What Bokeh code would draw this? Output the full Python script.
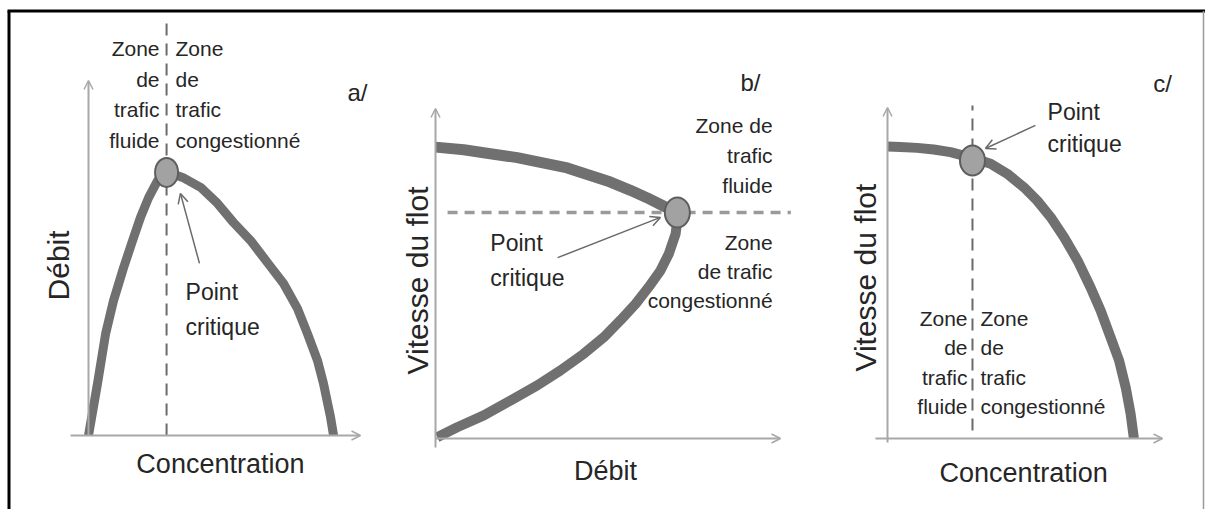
import math
from bokeh.plotting import figure
from bokeh.models import Arrow, OpenHead, Label, Range1d
from bokeh.embed import file_html
from bokeh.resources import INLINE

FONT = "Liberation Sans"
TXT = "#262626"
CURVE = "#707070"
AXIS = "#a8a8a8"

# ---------------- data (axis arrow tip = 10) ----------------
# a/ Débit vs Concentration
a_concentration = [0.00, 0.33, 0.63, 0.92, 1.29, 1.62, 1.91, 2.21, 2.54, 2.94, 3.46, 4.12, 4.74,
                   5.33, 5.96, 6.58, 7.17, 7.68, 8.05, 8.42, 8.64, 8.90, 9.01]
a_debit = [0.00, 1.46, 2.87, 3.80, 4.73, 5.49, 6.14, 6.70, 7.18, 7.41, 7.27, 6.99, 6.54,
           6.00, 5.49, 4.87, 4.28, 3.58, 2.87, 2.11, 1.46, 0.51, 0.00]
a_critical = ([2.87], [7.41])

# b/ Vitesse du flot vs Débit (upper branch = fluide, lower branch = congestionné)
b_debit_upper = [0.00, 0.82, 1.59, 2.37, 3.04, 3.82, 4.49, 5.07, 5.65, 6.14, 6.52, 6.91, 7.01]
b_speed_upper = [8.83, 8.75, 8.63, 8.51, 8.37, 8.20, 7.97, 7.77, 7.52, 7.29, 7.09, 6.89, 6.85]
b_debit_lower = [7.01, 7.02, 6.96, 6.76, 6.52, 6.18, 5.80, 5.36, 4.88, 4.30, 3.62, 2.95, 2.17, 1.40, 0.63, 0.05]
b_speed_lower = [6.85, 6.71, 6.20, 5.59, 5.09, 4.59, 4.08, 3.58, 3.07, 2.57, 2.06, 1.61, 1.15, 0.70, 0.34, 0.04]
b_critical = ([7.01], [6.85])

# c/ Vitesse du flot vs Concentration
c_concentration = [0.00, 0.47, 1.08, 1.68, 2.29, 3.07, 3.75, 4.35, 4.96, 5.44, 5.93, 6.42,
                   6.91, 7.38, 7.75, 8.11, 8.42, 8.66, 8.84, 8.96]
c_speed = [8.82, 8.81, 8.78, 8.73, 8.65, 8.48, 8.30, 8.00, 7.59, 7.19, 6.69, 6.08,
           5.38, 4.57, 3.87, 3.06, 2.36, 1.55, 0.75, 0.00]
c_critical = ([3.09], [8.40])

# ---------------- layout (page pixels) ----------------
W, H = 1205, 509
# origin of each panel's axes on the page and pixels per data unit
PANELS = {
    "a": dict(ox=88, oy=435, sx=27.2, sy=35.5),
    "b": dict(ox=435, oy=438, sx=34.5, sy=33.0),
    "c": dict(ox=887, oy=438, sx=27.5, sy=33.1),
}


def px_x(key, px):
    s = PANELS[key]
    return (px - s["ox"]) / s["sx"]


def px_y(key, py):
    s = PANELS[key]
    return (s["oy"] - py) / s["sy"]


p = figure(width=W, height=H, x_range=Range1d(0, W), y_range=Range1d(H, 0),
           x_axis_type=None, y_axis_type=None, toolbar_location=None,
           output_backend="svg", min_border=0)
p.outline_line_color = None
p.background_fill_color = "white"
p.border_fill_color = "white"
for k in PANELS:
    p.extra_x_ranges[k] = Range1d(px_x(k, 0), px_x(k, W))
    p.extra_y_ranges[k] = Range1d(px_y(k, H), px_y(k, 0))

# outer frame (page pixel coordinates)
p.line([7, W], [10.5, 10.5], line_color="black", line_width=3)
p.line([8.5, 8.5], [10.5, H], line_color="black", line_width=3)
p.line([1203, 1203], [10.5, H], line_color="#9a9a9a", line_width=1.5)


def axes(k, x0, y0):
    for xs, ys, xe, ye in ((x0, 0, 10, 0), (0, y0, 0, 10)):
        p.add_layout(Arrow(end=OpenHead(size=9, line_color=AXIS, line_width=1.5),
                           x_start=xs, y_start=ys, x_end=xe, y_end=ye,
                           line_color=AXIS, line_width=2, x_range_name=k, y_range_name=k))


def label(k, x, y, text, size, align="center", angle=0.0):
    p.add_layout(Label(x=x, y=y, text=text, text_align=align, text_baseline="middle",
                       text_font=FONT, text_font_size=size, text_color=TXT, angle=angle,
                       x_range_name=k, y_range_name=k))


def lines(k, texts, x, y0, dy, align, size="21px"):
    for i, t in enumerate(texts):
        label(k, x, y0 - i * dy, t, size, align=align)


def pointer(k, xs, ys, xe, ye):
    p.add_layout(Arrow(end=OpenHead(size=10, line_color="#6a6a6a", line_width=1.5),
                       x_start=xs, y_start=ys, x_end=xe, y_end=ye,
                       line_color="#6a6a6a", line_width=1.5, x_range_name=k, y_range_name=k))


def curve(k, xs, ys, width):
    p.line(xs, ys, line_color=CURVE, line_width=width, line_join="round",
           x_range_name=k, y_range_name=k)


def dashed(k, xs, ys, color, width, dash):
    p.line(xs, ys, line_color=color, line_width=width, line_dash=dash,
           x_range_name=k, y_range_name=k)


def critical(k, pt, w, h):
    p.ellipse(pt[0], pt[1], width=w, height=h, width_units="screen", height_units="screen",
              fill_color="#a2a2a2", line_color="#5e5e5e", line_width=2,
              x_range_name=k, y_range_name=k)


# ---------------- panel a ----------------
axes("a", -0.66, 0)
dashed("a", [a_critical[0][0]] * 2, [0, 11.8], "#6a6a6a", 2, "12 8")
curve("a", a_concentration, a_debit, 9)
critical("a", a_critical, 23, 29)
lines("a", ["Zone", "de", "trafic", "fluide"], 2.61, 10.90, 0.865, "right")
lines("a", ["Zone", "de", "trafic", "congestionné"], 3.20, 10.90, 0.865, "left")
lines("a", ["Point", "critique"], 3.57, 4.03, 0.96, "left", size="23px")
pointer("a", 4.08, 4.85, 3.38, 6.82)
label("a", 9.89, 9.66, "a/", "24px")
label("a", -1.10, 4.79, "Débit", "30px", angle=math.pi / 2)
label("a", 4.85, -0.79, "Concentration", "27px")

# ---------------- panel b ----------------
axes("b", 0, -0.27)
dashed("b", [0.35, 10.3], [b_critical[1][0]] * 2, "#9a9a9a", 3.5, "10 7")
curve("b", b_debit_upper, b_speed_upper, 11)
curve("b", b_debit_lower, b_speed_lower, 10)
critical("b", b_critical, 25, 30)
lines("b", ["Zone de", "trafic", "fluide"], 9.77, 9.48, 0.905, "right")
lines("b", ["Zone", "de trafic", "congestionné"], 9.77, 5.94, 0.88, "right")
lines("b", ["Point", "critique"], 1.59, 5.91, 1.06, "left", size="23px")
pointer("b", 3.54, 5.48, 6.52, 6.70)
label("b", 9.13, 10.79, "b/", "24px")
label("b", -0.52, 4.79, "Vitesse du flot", "30px", angle=math.pi / 2)
label("b", 4.93, -0.97, "Débit", "27px")

# ---------------- panel c ----------------
axes("c", -0.44, -0.12)
dashed("c", [c_critical[0][0]] * 2, [0.24, 10.06], "#6a6a6a", 2, "12 8")
curve("c", c_concentration, c_speed, 10)
critical("c", c_critical, 25, 30)
lines("c", ["Zone", "de", "trafic", "fluide"], 2.91, 3.63, 0.89, "right")
lines("c", ["Zone", "de", "trafic", "congestionné"], 3.38, 3.63, 0.89, "left")
lines("c", ["Point", "critique"], 5.82, 9.85, 0.94, "left", size="23px")
pointer("c", 5.38, 9.46, 3.56, 8.76)
label("c", 10.0, 10.73, "c/", "24px")
label("c", -0.80, 4.86, "Vitesse du flot", "30px", angle=math.pi / 2)
label("c", 4.95, -1.03, "Concentration", "27px")

open("out.html", "w").write(file_html(p, INLINE))
